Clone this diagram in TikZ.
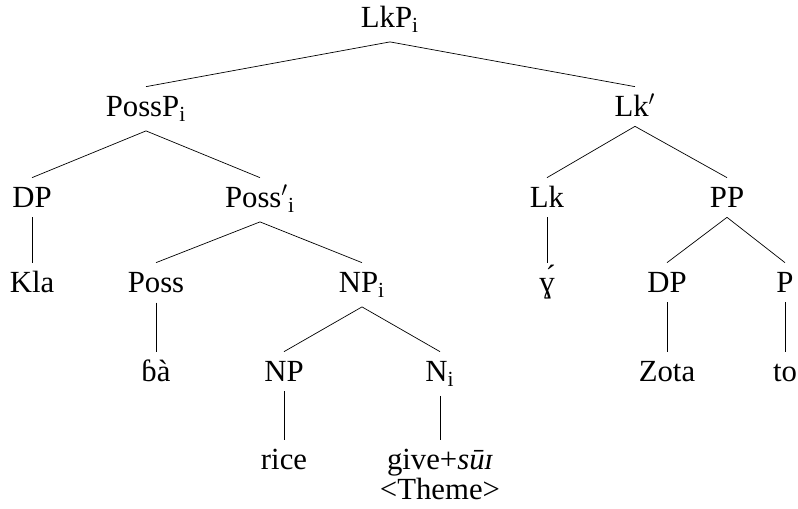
\documentclass[tikz,border=0pt]{standalone}
\usepackage{fontspec}
\setmainfont{Liberation Serif}
\begin{document}
\begin{tikzpicture}[x=0.02cm, y=-0.02cm, every node/.style={anchor=base, text height=0.42cm, inner xsep=1pt, inner ysep=0.18cm, font=\fontsize{17.5}{17}\selectfont}]
    \useasboundingbox (0,0) rectangle (798,509);

    % Nodes
    \node (lkp) at (390,28) {LkP\textsubscript{i}};

    \node (possp) at (146,117) {PossP\textsubscript{i}};
    \node (lkbar) at (635,117) {Lk$'$};

    \node (dp) at (32,208) {DP};
    \node (possbar) at (260,208) {Poss$'$\textsubscript{i}};
    \node (lk) at (547,208) {Lk};
    \node (pp) at (727,208) {PP};

    \node (kla) at (32,293) {Kla};
    \node (poss) at (156,293) {Poss};
    \node (npi) at (362,293) {NP\textsubscript{i}};
    \node (gam) at (547,293) {ɣ́};
    \node (dpz) at (667,293) {DP};
    \node (p) at (785,293) {P};

    \node (ba) at (156,382) {ɓà};
    \node (np) at (284,382) {NP};
    \node (ni) at (440,382) {N\textsubscript{i}};
    \node (zota) at (667,382) {Zota};
    \node (to) at (785,382) {to};

    \node (rice) at (284,470) {rice};
    \node (give) [anchor=north, text height={}, align=center] at (440,440) {give+\textit{sūɪ}\\<Theme>};

    % Branches
    \draw (lkp.south) -- (possp.north);
    \draw (lkp.south) -- (lkbar.north);
    \draw (possp.south) -- (dp.north);
    \draw (possp.south) -- (possbar.north);
    \draw (dp.south) -- (kla.north);
    \draw (possbar.south) -- (poss.north);
    \draw (possbar.south) -- (npi.north);
    \draw (poss.south) -- (ba.north);
    \draw (npi.south) -- (np.north);
    \draw (npi.south) -- (ni.north);
    \draw (np.south) -- (rice.north);
    \draw (ni.south) -- (give.north);
    \draw (lkbar.south) -- (lk.north);
    \draw (lkbar.south) -- (pp.north);
    \draw (lk.south) -- (gam.north);
    \draw (pp.south) -- (dpz.north);
    \draw (pp.south) -- (p.north);
    \draw (dpz.south) -- (zota.north);
    \draw (p.south) -- (to.north);

\end{tikzpicture}
\end{document}
